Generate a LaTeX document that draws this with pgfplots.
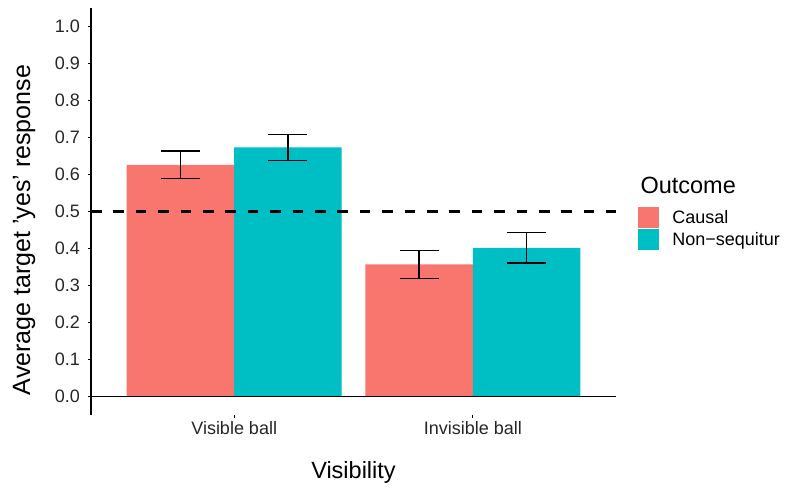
\documentclass[border=0pt]{standalone}
\usepackage{pgfplots}
\pgfplotsset{compat=1.18}
\usepackage{fontspec}
\setmainfont{Liberation Sans}
\definecolor{causal}{HTML}{F8766D}
\definecolor{nonseq}{HTML}{00BFC4}

\begin{document}
\begin{tikzpicture}
\useasboundingbox (0,0) rectangle (787pt,491pt);
\begin{axis}[
    at={(91pt,76pt)}, anchor=south west,
    scale only axis, width=525pt, height=407pt,
    xmin=0.4, xmax=2.6, ymin=-0.05, ymax=1.05,
    clip=false,
    ybar=0pt, bar width=107.5pt,
    axis lines*=left,
    x axis line style={draw=none},
    y axis line style={line width=1.1pt},
    tick align=outside, major tick length=3pt,
    tick style={line width=1pt, black},
    xtick={1,2}, xticklabels={Visible ball, Invisible ball},
    ytick={0,0.1,0.2,0.3,0.4,0.5,0.6,0.7,0.8,0.9,1},
    yticklabel style={xshift=-4.5pt, /pgf/number format/fixed, /pgf/number format/fixed zerofill,
        /pgf/number format/precision=1, /pgf/number format/assume math mode=true},
    tick label style={font=\fontsize{18}{18}\selectfont, text=black!85},
    xlabel={Visibility},
    ylabel={Average target 'yes' response},
    label style={font=\fontsize{23.5}{24}\selectfont},
    xlabel style={at={(axis description cs:0.5,-0.14)}, anchor=center},
    ylabel style={at={(axis description cs:-0.1276,0.4545)}, anchor=center,
        font=\fontsize{25}{25}\selectfont},
    legend style={at={(1.042,0.511)}, anchor=north west, draw=none, fill=none,
        inner sep=0pt, row sep=1pt, column sep=13pt,
        font=\fontsize{18}{18}\selectfont, nodes={inner sep=0pt}},
    legend cell align=left,
]
\addplot[legend image code/.code={\fill[causal] (0pt,-10.5pt) rectangle (21pt,10.5pt);},
    fill=causal, draw=none,
    error bars/.cd, y dir=both, y explicit,
    error bar style={line width=1.5pt, black},
    error mark options={rotate=90, mark size=19.5pt, line width=1.5pt, black}]
    coordinates {(1,0.626) +- (0,0.037) (2,0.357) +- (0,0.038)};
\addplot[legend image code/.code={\fill[nonseq] (0pt,-10.5pt) rectangle (21pt,10.5pt);},
    fill=nonseq, draw=none,
    error bars/.cd, y dir=both, y explicit,
    error bar style={line width=1.5pt, black},
    error mark options={rotate=90, mark size=19.5pt, line width=1.5pt, black}]
    coordinates {(1,0.673) +- (0,0.035) (2,0.402) +- (0,0.041)};
\legend{Causal, Non−sequitur}
\draw[black, line width=1.1pt] (axis cs:0.4,0) -- (axis cs:2.6,0);
\draw[black, line width=3pt, dash pattern=on 10.5pt off 11.9pt] (axis cs:0.4,0.5) -- (axis cs:2.6,0.5);
\node[anchor=west, font=\fontsize{23.5}{24}\selectfont] at (axis description cs:1.04,0.565) {Outcome};
\end{axis}
\end{tikzpicture}
\end{document}
